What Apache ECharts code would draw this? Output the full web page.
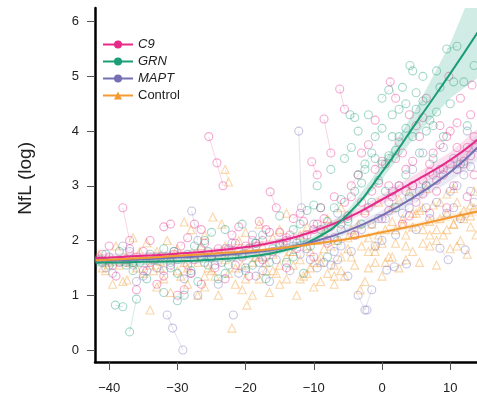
<!DOCTYPE html>
<html><head><meta charset="utf-8">
<script src="https://cdn.jsdelivr.net/npm/echarts@6/dist/echarts.min.js"></script>
<style>html,body{margin:0;padding:0;background:#fff}#c{width:477px;height:397px}</style>
</head><body><div id="c"></div>
<script>
// ---- tick labels ----
const xTicks = [-40, -30, -20, -10, 0, 10];
const yTicks = [0, 1, 2, 3, 4, 5, 6];
const groups = ['C9', 'GRN', 'MAPT', 'Control'];

// ---- fitted curves ----
const fitX = [-42, -40, -35, -30, -25, -20, -15, -10, -5, 0, 5, 10, 14];
const fitC9 = [1.68, 1.69, 1.72, 1.76, 1.81, 1.88, 1.99, 2.17, 2.42, 2.75, 3.10, 3.47, 3.84];
const fitGRN = [1.60, 1.60, 1.61, 1.62, 1.65, 1.70, 1.80, 2.02, 2.48, 3.25, 4.15, 5.05, 5.80];
const fitMAPT = [1.64, 1.64, 1.66, 1.69, 1.72, 1.77, 1.85, 1.98, 2.18, 2.46, 2.82, 3.25, 3.70];
const fitControl = [1.64, 1.65, 1.68, 1.72, 1.76, 1.80, 1.86, 1.94, 2.03, 2.15, 2.28, 2.42, 2.53];
// confidence bands
const loC9 = [1.60, 1.62, 1.66, 1.71, 1.76, 1.83, 1.94, 2.11, 2.35, 2.66, 2.98, 3.32, 3.64];
const hiC9 = [1.76, 1.76, 1.78, 1.81, 1.86, 1.93, 2.04, 2.23, 2.49, 2.84, 3.22, 3.62, 4.04];
const loGRN = [1.52, 1.53, 1.55, 1.57, 1.60, 1.65, 1.75, 1.96, 2.40, 3.12, 3.92, 4.60, 4.97];
const hiGRN = [1.68, 1.67, 1.67, 1.67, 1.70, 1.75, 1.85, 2.08, 2.56, 3.38, 4.42, 5.60, 6.80];
const loMAPT = [1.56, 1.58, 1.61, 1.65, 1.68, 1.73, 1.80, 1.92, 2.11, 2.37, 2.70, 3.08, 3.46];
const hiMAPT = [1.72, 1.70, 1.71, 1.73, 1.76, 1.81, 1.90, 2.04, 2.25, 2.55, 2.94, 3.42, 3.94];
const loControl = [1.59, 1.61, 1.65, 1.70, 1.74, 1.78, 1.84, 1.91, 2.00, 2.11, 2.23, 2.36, 2.45];
const hiControl = [1.69, 1.69, 1.71, 1.74, 1.78, 1.82, 1.88, 1.97, 2.06, 2.19, 2.33, 2.48, 2.61];

// ---- individual subjects [x, y] (years to onset, log NfL) ----
const subjControl = [
 [[-41.5,1.75],[-40,1.6]],[[-40.5,1.45]],[[-39,1.9],[-37.5,1.7]],[[-38,1.25]],[[-37.4,1.28],[-36,1.5]],[[-36.5,2.05]],
 [[-35,1.4],[-34,1.55]],[[-34.5,1.96],[-33,1.8]],[[-34,0.73]],[[-33,1.15],[-32,1.3]],[[-32.5,1.62]],[[-31.5,2.0],[-30,1.85]],
 [[-31,1.05]],[[-30,1.45],[-29,1.6]],[[-29,2.34],[-28,2.2]],[[-28.5,1.2]],[[-27.5,1.75],[-26.5,1.9]],[[-27,1.0],[-26,1.15]],
 [[-26,2.1]],[[-25.5,1.5],[-24.5,1.35]],[[-24.8,2.43],[-23.5,2.3]],[[-24,1.0]],
 [[-23,3.3],[-22.5,3.07]],[[-23,1.65],[-22,1.8]],[[-22,0.4]],[[-21.5,1.2],[-20.5,1.1]],[[-21,2.0],[-20,2.15]],[[-20.5,1.55]],
 [[-19.8,0.82],[-19,1.0]],[[-19.5,1.85],[-18.5,1.7]],[[-18,1.3],[-17,1.45]],[[-18,2.3]],[[-17,1.6],[-16,1.75]],[[-16.5,1.05]],
 [[-16,2.05],[-15,2.2]],[[-15.5,1.4]],[[-15,1.2],[-14,1.3]],[[-14.5,1.9],[-13.5,1.8]],[[-14,2.5]],[[-13,1.55],[-12,1.65]],
 [[-12.5,1.0]],[[-12,2.1],[-11,2.25]],[[-11.5,1.35],[-10.5,1.5]],[[-10.5,1.8]],[[-10,1.15],[-9,1.25]],[[-9.5,2.0],[-8.5,2.15]],
 [[-9,1.6]],[[-8,1.4],[-7,1.55]],[[-8,2.4]],[[-7.5,1.9],[-6.5,2.0]],[[-7,1.2]],[[-6,1.7],[-5,1.85]],[[-6,2.6]],[[-5.5,1.35]],
 [[-4.5,2.2],[-3.5,2.3]],[[-4,1.55]],[[-3.2,1.1],[-2.5,1.25]],[[-3,1.9],[-2,2.05]],[[-2.5,2.55]],[[-2,1.5],[-1,1.6]],
 [[-1.5,2.3]],[[-1,1.8],[0,1.95]],[[-0.5,2.7]],[[0,1.35]],[[0.5,2.2],[1.5,2.35]],[[1,1.7]],[[1.5,2.6],[2.5,2.75]],[[2,1.95]],
 [[2.5,1.5],[3.5,1.65]],[[3,2.4]],[[3.5,2.1],[4.5,2.25]],[[4,2.9]],[[4.5,1.8]],[[5,2.5],[6,2.6]],[[5.5,1.6]],[[6,2.2],[7,2.35]],
 [[6.5,2.95]],[[7,1.9],[8,2.0]],[[7.5,2.65]],[[8,1.55]],[[8.5,2.4],[9.5,2.5]],[[9,2.1]],[[9.5,2.85],[10.5,2.95]],[[10,1.85]],
 [[10.5,2.3],[11.5,2.45]],[[11,2.7]],[[11.5,2.0]],[[12,2.55],[13,2.65]],[[12.5,1.75]],[[13,2.25]],[[13.5,2.9]],[[13.8,2.1]],
 [[-41,1.5],[-40,1.65]],[[-39.5,1.2]],[[-38.5,1.55],[-37,1.6]],[[-35.5,1.8]],[[-33.5,1.45],[-32.5,1.5]],[[-31,1.7]],
 [[-29.5,1.35],[-28.5,1.5]],[[-27,1.6]],[[-26,1.35],[-25,1.45]],[[-24,1.75],[-23,1.9]],[[-22.5,1.4],[-21.5,1.5]],[[-20,1.3]],
 [[-19,1.6],[-18,1.7]],[[-17.5,1.9]],[[-16,1.45],[-15,1.55]],[[-14,1.7],[-13,1.8]],[[-12,1.3],[-11,1.4]],[[-11,1.9]],
 [[-10,1.6],[-9,1.7]],[[-8.5,1.85]],[[-7,1.35],[-6,1.45]],[[-5,2.05],[-4,2.1]],[[-4.5,1.7]],[[-2,1.8],[-1,1.9]],[[-0.5,2.1]],
 [[0.5,1.6],[1.5,1.7]],[[2,2.2],[3,2.3]],[[3.5,1.9]],[[4.5,2.5],[5.5,2.55]],[[6,1.95]],[[7,2.1],[8,2.2]],[[8.5,2.7]],
 [[9.5,2.2],[10.5,2.3]],[[11,1.9]],[[12,2.4],[13,2.45]],[[13.5,2.6]]
];
const subjC9 = [
 [[-41,1.75],[-39.5,1.55]],[[-39,1.35]],[[-38,2.6],[-37,2.0]],[[-37,1.85],[-36,1.7]],[[-36,1.1]],[[-35,1.45],[-34,1.6]],[[-34,2.0]],
 [[-33,1.2],[-32,1.35]],[[-32,2.25],[-31,2.3]],[[-31,1.55]],[[-30,1.0],[-29,1.1]],[[-29.5,1.9],[-28.5,2.05]],[[-28,1.4]],
 [[-27.5,2.3],[-26.5,2.2]],[[-26.5,1.2]],[[-25.4,3.9],[-24.2,3.42],[-23.3,3.0]],[[-25,1.7],[-24,1.85]],[[-23,1.3]],
 [[-22,2.1],[-21,2.25]],[[-21.5,1.55]],[[-20,1.9],[-19,2.0]],[[-19.5,1.35]],[[-18,2.35],[-17,2.2]],[[-17.5,1.65]],
 [[-16.4,2.89],[-15.5,2.6]],[[-16,1.8]],[[-15,2.15],[-14,2.05]],[[-14,1.5]],[[-13,2.4],[-12,2.5]],[[-12.5,1.85]],
 [[-11,2.1],[-10,2.2]],[[-10.3,3.44],[-9.5,3.2]],[[-10,1.7]],[[-8.5,4.22],[-7.5,3.6]],[[-9,2.6]],[[-6.2,4.77],[-5.5,4.4]],
 [[-8,1.95],[-7,2.05]],[[-7,2.8]],[[-6,2.3],[-5,2.45]],
 [[-4.5,3.0],[-3.5,3.2]],[[-4,2.1]],[[-3,3.6],[-2,3.75]],[[-2.5,2.5]],[[-1.5,2.9],[-0.5,3.05]],[[-1,4.2]],[[0,2.4],[1,2.55]],
 [[0.5,3.4]],[[1.2,4.9],[2,4.6]],[[1.5,2.8],[2.5,3.0]],[[2.5,3.8]],[[3,2.3],[4,2.45]],[[3.5,3.3],[4.5,3.45]],[[4,4.3]],
 [[5,2.7],[6,2.85]],[[5.5,3.9]],[[6,3.1],[7,3.25]],[[6.5,4.6]],[[7,2.5]],[[7.5,3.6],[8.5,3.75]],[[8,2.9]],[[8.5,4.1]],
 [[9,3.3],[10,3.4]],[[9.5,2.6]],[[9.8,5.0]],[[10,4.0],[11,4.15]],[[10.5,3.0]],[[11,3.7]],[[11.5,4.6]],[[12,3.4],[13,3.55]],
 [[12.5,2.8]],[[13,4.3]],[[13.2,4.84]],[[13.5,3.9]],
 [[-40,1.9]],[[-38.5,1.6],[-37.5,1.65]],[[-35,1.8]],[[-33.5,1.65],[-32.5,1.7]],[[-30.5,1.75]],[[-28.5,1.55],[-27.5,1.65]],
 [[-26,1.95]],[[-24.5,1.5]],[[-22.5,1.85],[-21.5,1.95]],[[-20.5,1.7]],[[-18.5,1.9],[-17.5,2.0]],[[-16.5,2.15]],
 [[-14.5,1.95],[-13.5,2.1]],[[-11.5,2.35]],[[-9.5,2.3],[-8.5,2.4]],[[-7.5,2.25]],[[-5.5,2.7],[-4.5,2.8]],[[-3,2.7]],
 [[-1,3.3],[0,3.45]],[[1,3.0]],[[2,3.5],[3,3.6]],[[4.5,3.0]],[[5,4.1],[6,4.25]],[[7,3.4]],[[8,3.1],[9,3.2]],[[9.5,3.9]],
 [[11,3.3],[12,3.45]],[[12.5,3.7]],[[13.5,3.2]]
];
const subjGRN = [
 [[-41.5,1.65],[-40,1.55]],[[-39.1,0.82],[-38,0.79]],[[-37,0.33],[-36,0.93]],[[-38.5,1.8]],[[-36.5,1.45],[-35.5,1.6]],[[-34.5,1.3]],
 [[-33,1.7],[-32,1.85]],[[-32,1.05]],[[-31,1.5],[-30,1.4]],[[-30,0.9],[-29,1.0]],[[-28.5,1.75],[-27.5,1.9]],[[-27,1.25]],
 [[-26,2.0],[-25,2.15]],[[-25.5,1.55]],[[-24,1.3],[-23,1.4]],[[-23,2.2]],[[-22,1.7],[-21,1.8]],[[-20.5,2.3]],[[-20,1.45],[-19,1.55]],
 [[-18.5,1.95],[-17.5,2.1]],[[-17,1.3]],[[-16,1.85],[-15,1.95]],[[-15,2.45]],[[-14,1.6],[-13,1.7]],[[-13,2.2],[-12,2.3]],
 [[-11.5,1.4]],[[-11,2.55],[-10,2.65]],[[-10.5,1.9]],[[-9,2.2],[-8,2.35]],[[-9.5,3.0]],[[-8,1.7]],[[-7,2.6],[-6,2.75]],
 [[-7.5,3.3]],[[-6.5,2.0]],[[-5.5,3.5],[-4.5,3.7]],[[-5,2.4]],[[-4.7,4.3],[-4,4.25]],[[-4,2.9],[-3,3.05]],[[-3.5,4.0]],[[-3,2.3]],
 [[-2.5,3.4],[-1.5,3.6]],[[-2,4.3]],[[-1.5,2.7]],[[-1,3.9],[0,4.05]],[[-0.5,3.1]],[[0,4.6],[1,4.75]],[[0.5,2.9]],
 [[1,3.5],[2,3.65]],[[1.5,4.3]],[[2,2.6]],[[2.5,3.9],[3.5,4.05]],[[3,4.8]],[[3.5,3.2]],[[4.1,5.2],[4.5,5.1]],[[4,2.8]],
 [[5,4.4],[6,4.55]],[[5.5,3.6]],[[6,5.0]],[[6.5,3.0]],[[7,4.2],[8,4.35]],[[7.5,3.5]],[[8.5,4.8]],[[9.5,5.5],[11,5.55]],
 [[9,3.9]],[[10,4.5]],[[11.5,3.4]],[[12,4.9]],[[12.5,4.1]],[[13.5,5.2]],
 [[-40.5,1.75]],[[-37.5,1.55],[-36.5,1.6]],[[-34,1.75]],[[-31.5,1.7],[-30.5,1.8]],[[-28,1.45]],[[-26.5,1.7],[-25.5,1.8]],
 [[-22.5,1.55]],[[-19.5,1.85],[-18.5,1.95]],[[-16.5,1.6]],[[-12.5,1.95],[-11.5,2.05]],[[-9,2.6]],[[-6,2.2],[-5,2.35]],
 [[-3.5,3.2],[-2.5,3.3]],[[-1,3.5]],[[0,3.4],[1,3.55]],[[1.5,3.9]],[[2.5,4.4],[3.5,4.5]],[[4.5,3.9]],[[5,4.7]],
 [[6.5,4.0],[7.5,4.1]],[[8,5.1]],[[10.5,4.9]]
];
const subjMAPT = [
 [[-41,1.6],[-40,1.7]],[[-39.5,1.4]],[[-38,1.9],[-37,1.8]],[[-36,1.25],[-35,1.35]],[[-34,1.7]],[[-33,1.5],[-32,1.45]],
 [[-31.5,0.64],[-30.7,0.4],[-29.2,0.0]],[[-30.5,1.8]],[[-29,1.3],[-28,1.4]],[[-27.9,2.54],[-27,2.0]],[[-27,1.0]],
 [[-26,1.6],[-25,1.7]],[[-24,1.2]],[[-23,1.85],[-22,1.95]],[[-21.8,0.64]],[[-21,1.4],[-20,1.5]],[[-19,2.1]],
 [[-18,1.6],[-17,1.7]],[[-16.5,1.25]],[[-15,1.9],[-14,2.0]],[[-13.5,1.45]],[[-12.2,4.0],[-11.8,2.6]],[[-12,1.75],[-11,1.85]],
 [[-10,2.3]],[[-9.5,1.5],[-8.5,1.6]],[[-8,2.0]],[[-7,1.8],[-6,1.9]],[[-6.5,2.5]],[[-5,1.35]],
 [[-3.5,1.0],[-2.5,0.73],[-1.5,1.1]],[[-2.2,0.73]],[[-4,2.1],[-3,2.2]],[[-2,2.6]],[[-1,1.9],[0,2.0]],
 [[0.7,1.46],[1.8,1.52],[3.6,1.57]],[[0.5,2.4]],[[1.5,2.9],[2.5,3.0]],[[2,2.1]],[[3,2.5],[4,2.6]],[[4.5,3.3]],[[5,2.2]],
 [[5.5,2.9],[6.5,3.0]],[[6,3.6]],[[7,2.4]],[[7.5,3.2],[8.5,3.3]],[[8.5,1.86],[9.7,1.65]],[[8,2.7]],[[9,3.7]],
 [[10,2.9],[11,3.0]],[[10.5,3.5]],[[11.5,2.4]],[[12.2,1.83]],[[12,3.2],[13,3.35]],[[12.5,4.0]],[[13.5,2.7]],[[13.8,3.7]],
 [[-40.5,1.5]],[[-37.5,1.6],[-36.5,1.55]],[[-34.5,1.45]],[[-31,1.6],[-30,1.65]],[[-26.5,1.85]],[[-24.5,1.55],[-23.5,1.6]],
 [[-20.5,1.75]],[[-18.5,1.35],[-17.5,1.45]],[[-15.5,1.65]],[[-13,1.9],[-12,2.0]],[[-10.5,1.65]],[[-7.5,1.55],[-6.5,1.65]],
 [[-4.5,1.8]],[[-1.5,2.3],[-0.5,2.4]],[[1,2.7]],[[3.5,2.9],[4.5,3.0]],[[6.5,2.6]],[[9.5,2.5],[10.5,2.6]],[[11,3.3]],[[13,2.9]]
];

const colors = { C9: '#E7298A', GRN: '#1B9E77', MAPT: '#7570B3', Control: '#F39A30' };
const subjects = { C9: subjC9, GRN: subjGRN, MAPT: subjMAPT, Control: subjControl };
const fits = { C9: fitC9, GRN: fitGRN, MAPT: fitMAPT, Control: fitControl };
const los = { C9: loC9, GRN: loGRN, MAPT: loMAPT, Control: loControl };
const his = { C9: hiC9, GRN: hiGRN, MAPT: hiMAPT, Control: hiControl };

const series = [];
const drawOrder = ['Control', 'MAPT', 'C9', 'GRN'];
drawOrder.forEach(g => {
  series.push({
    type: 'lines', coordinateSystem: 'cartesian2d', polyline: true, silent: true, z: 1,
    lineStyle: { color: colors[g], width: 0.8, opacity: 0.25 },
    data: subjects[g].filter(s => s.length > 1).map(s => ({ coords: s }))
  });
});
drawOrder.forEach(g => {
  series.push({
    type: 'scatter', z: 2, silent: true,
    symbol: g === 'Control' ? 'triangle' : 'circle', symbolSize: 8,
    itemStyle: { color: 'rgba(0,0,0,0)', borderColor: colors[g], borderWidth: 1.1, opacity: 0.4 },
    data: [].concat(...subjects[g])
  });
});
drawOrder.forEach(g => {
  series.push({
    type: 'custom', z: 3, silent: true, data: [[0, 0]],
    renderItem: (params, api) => {
      const pts = [];
      fitX.forEach((x, i) => pts.push(api.coord([x, his[g][i]])));
      for (let i = fitX.length - 1; i >= 0; i--) pts.push(api.coord([fitX[i], los[g][i]]));
      const cs = params.coordSys;
      return {
        type: 'polygon', shape: { points: pts },
        style: { fill: colors[g], opacity: g === 'GRN' ? 0.2 : 0.15 },
        clipPath: { type: 'rect', shape: { x: cs.x, y: cs.y, width: cs.width, height: cs.height } }
      };
    }
  });
});
groups.forEach(g => {
  series.push({
    name: g, type: 'line', smooth: true, z: 4, silent: true,
    symbol: g === 'Control' ? 'triangle' : 'circle', symbolSize: 7, showSymbol: false,
    lineStyle: { color: colors[g], width: 2 }, itemStyle: { color: colors[g] },
    data: fitX.map((x, i) => [x, fits[g][i]])
  });
});

const chart = echarts.init(document.getElementById('c'), null, { renderer: 'canvas' });
chart.setOption({
  animation: false,
  backgroundColor: '#fff',
  grid: { left: 95, top: 8, right: 0, bottom: 35, containLabel: false },
  legend: {
    data: groups, orient: 'vertical', left: 97, top: 33, itemGap: 4, itemWidth: 30, itemHeight: 10,
    textStyle: { fontFamily: 'Liberation Sans', fontSize: 13, color: '#222',
      rich: { i: { fontStyle: 'italic', fontFamily: 'Liberation Sans', fontSize: 13, color: '#222' } } },
    formatter: n => n === 'Control' ? n : '{i|' + n + '}'
  },
  graphic: [{
    type: 'text', left: 16, top: 142, rotation: Math.PI / 2, silent: true,
    style: { text: 'NfL (log)', fontFamily: 'Liberation Sans', fontSize: 19, fill: '#222' }
  }],
  xAxis: {
    type: 'value', min: -42.08, max: 13.93,
    axisLine: { show: true, onZero: false, lineStyle: { color: '#000', width: 2.5 } },
    axisTick: { show: true, length: 8, customValues: xTicks, lineStyle: { color: '#555' } },
    axisLabel: { customValues: xTicks, margin: 20, fontFamily: 'Liberation Sans', fontSize: 13, color: '#222',
      formatter: v => (v < 0 ? '\u2212' + Math.abs(v) : '' + v) },
    splitLine: { show: false }
  },
  yAxis: {
    type: 'value', min: -0.22, max: 6.25,
    axisLine: { show: true, onZero: false, lineStyle: { color: '#000', width: 2.5 } },
    axisTick: { show: true, length: 8, customValues: yTicks, lineStyle: { color: '#555' } },
    axisLabel: { customValues: yTicks, margin: 16, fontFamily: 'Liberation Sans', fontSize: 13, color: '#222' },
    splitLine: { show: false }
  },
  series: series
});
</script></body></html>
